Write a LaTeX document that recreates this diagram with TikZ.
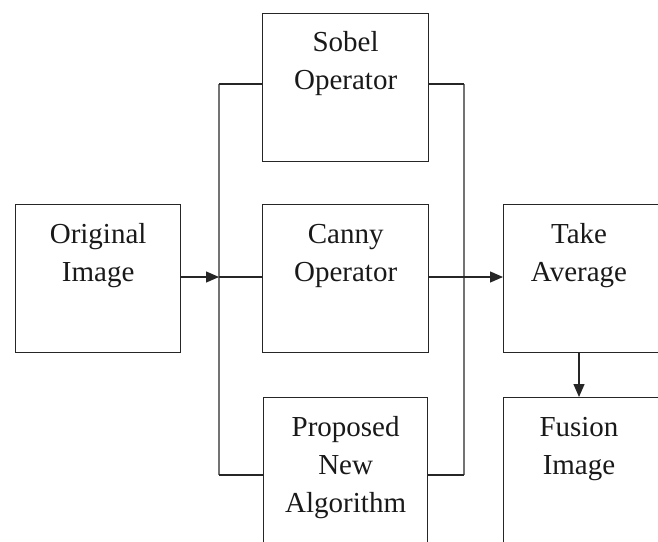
\documentclass[tikz,border=0pt]{standalone}
\usepackage{fontspec}
\setmainfont{Liberation Serif}
\usetikzlibrary{arrows.meta}
\begin{document}
\begin{tikzpicture}[x=1pt,y=-1pt,
  stage/.style={draw=black!85,line width=1.3pt,minimum width=166pt,minimum height=148pt,
    inner sep=0pt,anchor=north west},
  lbl/.style={anchor=base,align=center,inner sep=0pt,
    font=\fontsize{29}{38}\selectfont,text=black!90},
  wire/.style={draw=black!85,line width=1.3pt},
  bus/.style={draw=black!55,line width=2pt},
  flow/.style={wire,-{Triangle[length=13pt,width=11pt]}}]
\useasboundingbox (0,0) rectangle (658,541);
\clip (0,0) rectangle (658,541);

% processing boxes
\node[stage,minimum width=165pt] (orig) at (15,204) {};
\node[stage] (sobel) at (262,13) {};
\node[stage] (canny) at (262,204) {};
\node[stage,minimum width=164pt] (prop) at (263,397) {};
\node[stage,minimum width=170pt] (avg) at (503,204) {};
\node[stage,minimum width=170pt] (fus) at (503,397) {};

% labels (base anchor sits on the last line)
\node[lbl] (torig) at ([yshift=-77pt]orig.north) {Original\\Image};
\node[lbl] (tsobel) at ([yshift=-76pt]sobel.north) {Sobel\\Operator};
\node[lbl] (tcanny) at ([yshift=-77pt]canny.north) {Canny\\Operator};
\node[lbl] (tprop) at ([yshift=-115pt]prop.north) {Proposed\\New\\Algorithm};
\node[lbl] (tavg) at ([yshift=-77pt]avg.north-|579,0) {Take\\Average};
\node[lbl] (tfus) at ([yshift=-77pt]fus.north-|579,0) {Fusion\\Image};

% split and merge buses
\coordinate (s1) at (219,84);
\coordinate (s2) at (219,475);
\coordinate (m1) at (464,84);
\coordinate (m2) at (464,475);
\coordinate (sin) at (219,277);
\coordinate (mout) at (464,277);
\path[bus] (s1) -- (s2);
\path[bus] (m1) -- (m2);

% branches
\path[wire] (s1) -- (s1-|sobel.west);
\path[wire] (sin) -- (sin-|canny.west);
\path[wire] (s2) -- (s2-|prop.west);
\path[wire] (sobel.east|-m1) -- (m1);
\path[wire] (canny.east|-mout) -- (mout);
\path[wire] (prop.east|-m2) -- (m2);

% arrows
\path[flow] (orig.east|-sin) -- (sin);
\path[flow] (mout) -- (avg.west|-mout);
\path[flow] (avg.south-|579,0) -- (fus.north-|579,0);
\end{tikzpicture}
\end{document}
